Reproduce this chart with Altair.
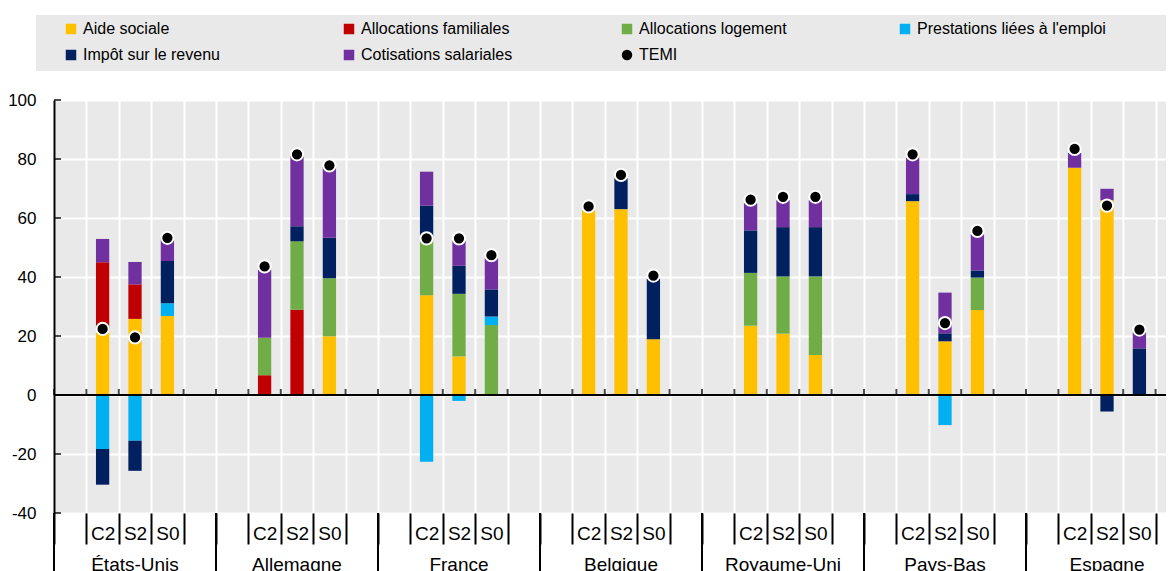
import altair as alt
import pandas as pd

# ---------------- data ----------------
countries = ["États-Unis", "Allemagne", "France", "Belgique", "Royaume-Uni", "Pays-Bas", "Espagne"]
scenarios = ["C2", "S2", "S0"]
components = ["Aide sociale", "Allocations familiales", "Allocations logement",
              "Prestations liées à l'emploi", "Impôt sur le revenu", "Cotisations salariales"]
temi_name = "TEMI"
component_colors = ["#FFC000", "#C00000", "#70AD47", "#00B0F0", "#002060", "#7030A0"]
temi_color = "#000000"

# one value per bar: US C2,S2,S0 | DE | FR | BE | UK | NL | ES
aide_sociale = [22.0, 25.8, 26.8, 0, 0, 19.9, 33.8, 13.1, 0, 62.8, 63.0, 18.9,
                23.5, 20.8, 13.6, 65.7, 18.2, 28.8, 77.0, 66.0, 0]
allocations_familiales = [23.0, 11.7, 0, 6.7, 28.9, 0, 0, 0, 0, 0, 0, 0,
                          0, 0, 0, 0, 0, 0, 0, 0, 0]
allocations_logement = [0, 0, 0, 12.7, 23.2, 19.7, 19.2, 21.2, 23.7, 0, 0, 0,
                        17.9, 19.4, 26.6, 0, 0, 11.0, 0, 0, 0]
prestations_emploi = [-18.3, -15.5, 4.3, 0, 0, 0, -22.6, -2.0, 2.9, 0, 0, 0,
                      0, 0, 0, 0, -10.2, 0, 0, 0, 0]
impot_revenu = [-12.1, -10.2, 14.3, 0, 5.1, 13.7, 11.2, 9.5, 9.2, 0, 10.5, 20.6,
                14.4, 16.7, 16.7, 2.4, 2.7, 2.4, 0, -5.6, 15.8]
cotisations = [7.9, 7.6, 7.8, 23.1, 23.8, 24.0, 11.5, 8.5, 10.7, 0, 0, 0,
               9.2, 9.1, 9.1, 12.4, 13.8, 12.3, 5.0, 3.9, 5.5]
temi = [22.4, 19.5, 53.3, 43.6, 81.6, 77.8, 53.1, 53.1, 47.4, 63.9, 74.6, 40.5,
        66.2, 67.2, 67.2, 81.6, 24.4, 55.6, 83.4, 64.2, 22.2]

y_ticks = [-40, -20, 0, 20, 40, 60, 80, 100]

series = [aide_sociale, allocations_familiales, allocations_logement,
          prestations_emploi, impot_revenu, cotisations]

# ---------------- layout constants ----------------
FONT = "Liberation Sans"
PLOT_W = 1112
PLOT_H = 413
RANGE_W = 1134
Y_MIN, Y_MAX = -40, 100
BG = "#E9E9E9"

slots = []
for c in countries:
    slots += [c + "|_a"] + [c + "|" + s for s in scenarios] + [c + "|_b"]

bar_rows = []
pt_rows = []
i = 0
for c in countries:
    for s in scenarios:
        for k, comp in enumerate(components):
            v = series[k][i]
            if v != 0:
                bar_rows.append({"slot": c + "|" + s, "serie": comp, "value": v, "idx": k})
        pt_rows.append({"slot": c + "|" + s, "serie": temi_name, "value": temi[i]})
        i += 1
bars_df = pd.DataFrame(bar_rows)
pts_df = pd.DataFrame(pt_rows)
country_df = pd.DataFrame({"country": countries,
                           "mid": [c + "|" + scenarios[1] for c in countries],
                           "start": [c + "|_a" for c in countries]})
slot_df = pd.DataFrame({"slot": slots})
ytick_df = pd.DataFrame({"v": y_ticks})

legend_domain = components + [temi_name]
color_scale = alt.Scale(domain=legend_domain, range=component_colors + [temi_color])
shape_scale = alt.Scale(domain=legend_domain, range=["square"] * len(components) + ["circle"])


def make_legend():
    return alt.Legend(orient="none", legendX=9, legendY=-79, columns=4, direction="horizontal",
                      gridAlign="all", columnPadding=69, rowPadding=10, symbolSize=110,
                      labelFontSize=16, labelFont=FONT, labelColor="black", labelOffset=4,
                      labelLimit=400, title=None, padding=0, symbolStrokeWidth=0)


y_scale = alt.Scale(domain=[Y_MIN, Y_MAX], nice=False, zero=False)
slot_scale = alt.Scale(domain=slots, range=[0, RANGE_W], paddingInner=0, paddingOuter=0)

label_expr = ("datum.value == null || indexof(datum.value + '', '|_') >= 0 ? '' : "
              "split(datum.value + '', '|')[1]")

x_main = alt.X("slot:N", scale=slot_scale, sort=slots,
               axis=alt.Axis(title=None, orient="bottom", tickBand="extent", domain=False,
                             ticks=True, tickSize=31, tickColor="black", tickWidth=2,
                             grid=True, gridColor="white", gridWidth=2,
                             labelExpr=label_expr, labelFontSize=19, labelFont=FONT,
                             labelColor="black", labelPadding=-11, labelBaseline="middle",
                             labelAngle=0))

bars = alt.Chart(bars_df).mark_bar(width=alt.RelativeBandSize(0.41)).encode(
    x=x_main,
    y=alt.Y("value:Q", stack="zero", scale=y_scale,
            axis=alt.Axis(title=None, values=y_ticks, orient="left", grid=True,
                          gridColor="white", gridWidth=2, domain=True, domainColor="black",
                          domainWidth=2, ticks=False, labelFontSize=17, labelFont=FONT,
                          labelColor="black", labelPadding=18,
                          labelExpr="datum.value + ''")),
    color=alt.Color("serie:N", scale=color_scale, legend=make_legend()),
    order=alt.Order("idx:Q"),
)

zero_line = alt.Chart(pd.DataFrame({"z": [0]})).mark_rule(color="black", strokeWidth=2).encode(
    y=alt.Y("z:Q")
)

zero_ticks = alt.Chart(slot_df).mark_tick(orient="vertical", size=6, thickness=2,
                                          color="black", yOffset=-3).encode(
    x=alt.X("slot:N", bandPosition=0),
    y=alt.datum(0),
)

y_inner_ticks = alt.Chart(ytick_df).mark_tick(orient="horizontal", size=7, thickness=2,
                                              color="black").encode(
    x=alt.value(3.5),
    y=alt.Y("v:Q"),
)

points = alt.Chart(pts_df).mark_point(filled=True, opacity=1, size=150, stroke="white",
                                     strokeWidth=2).encode(
    x=alt.X("slot:N"),
    y=alt.Y("value:Q"),
    color=alt.Color("serie:N", scale=color_scale, legend=make_legend()),
    shape=alt.Shape("serie:N", scale=shape_scale, legend=make_legend()),
)

group_lines = alt.Chart(country_df).mark_rule(color="black", strokeWidth=2).encode(
    x=alt.X("start:N", bandPosition=0),
    y=alt.value(PLOT_H),
    y2=alt.value(PLOT_H + 62),
)

country_labels = alt.Chart(country_df).mark_text(
    font=FONT, fontSize=19, color="black", baseline="alphabetic", align="center"
).encode(
    x=alt.X("mid:N"),
    y=alt.value(PLOT_H + 58),
    text="country:N",
)

legend_box = alt.Chart(pd.DataFrame({"k": [0]})).mark_rect(color=BG).encode(
    x=alt.value(-18), x2=alt.value(1200), y=alt.value(-85), y2=alt.value(-29)
)

chart = alt.layer(
    legend_box, bars, zero_line, zero_ticks, y_inner_ticks, points, group_lines, country_labels
).properties(
    width=PLOT_W, height=PLOT_H,
    autosize=alt.AutoSizeParams(type="none"),
    padding={"left": 46, "top": 92, "right": 0, "bottom": 60},
).configure_view(
    fill=BG, strokeWidth=0
)

chart.save("out.html", embed_options={"renderer": "svg", "actions": False})
